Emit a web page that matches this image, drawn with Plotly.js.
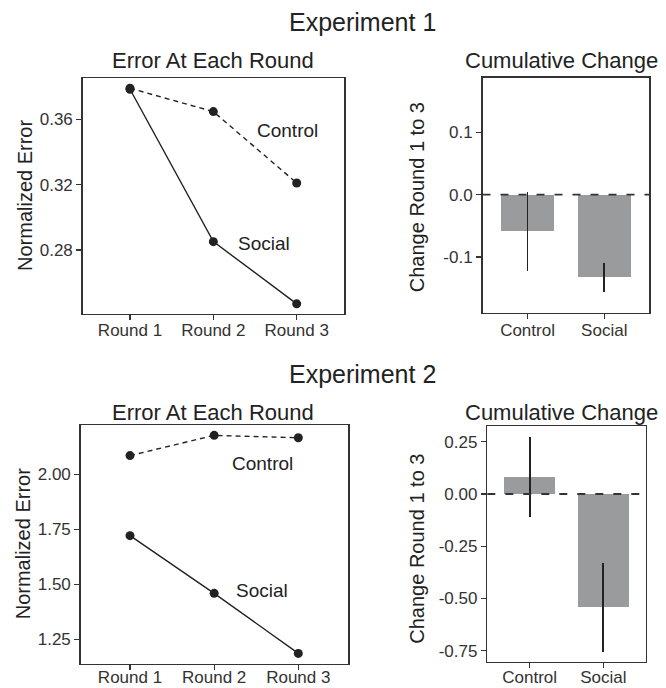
<!DOCTYPE html>
<html>
<head>
<meta charset="utf-8">
<script src="https://cdn.plot.ly/plotly-3.0.1.min.js"></script>
<style>html,body{margin:0;padding:0;background:#fff;}#chart{width:666px;height:688px;}</style>
</head>
<body>
<div id="chart"></div>
<script>
// ---- data ----
const rounds = ['Round 1', 'Round 2', 'Round 3'];
const groups = ['Control', 'Social'];

const exp1Control = [0.379, 0.3647, 0.321];
const exp1Social = [0.3784, 0.2851, 0.247];
const exp1Change = [-0.058, -0.1317];
const exp1CiHigh = [0.0048, -0.1088];
const exp1CiLow = [-0.1216, -0.1552];

const exp2Control = [2.085, 2.177, 2.166];
const exp2Social = [1.721, 1.459, 1.186];
const exp2Change = [0.0829, -0.5407];
const exp2CiHigh = [0.274, -0.3285];
const exp2CiLow = [-0.1116, -0.7544];

const exp1LineTicks = [0.28, 0.32, 0.36];
const exp1LineTickText = ['0.28', '0.32', '0.36'];
const exp1BarTicks = [-0.1, 0.0, 0.1];
const exp1BarTickText = ['-0.1', '0.0', '0.1'];
const exp2LineTicks = [1.25, 1.5, 1.75, 2.0];
const exp2LineTickText = ['1.25', '1.50', '1.75', '2.00'];
const exp2BarTicks = [-0.75, -0.5, -0.25, 0, 0.25];
const exp2BarTickText = ['-0.75', '-0.50', '-0.25', '0.00', '0.25'];

// ---- layout helpers ----
const W = 666, H = 688;
const px = v => v / W;
const py = v => 1 - v / H;
const FONT = 'Liberation Sans, Arial, Helvetica, sans-serif';
const INK = '#222';
const TXT = '#333';
const BAR = '#9a9b9d';

function errUp(v, hi) { return v.map((d, i) => hi[i] - d); }
function errDown(v, lo) { return v.map((d, i) => d - lo[i]); }

const lineCommon = {type: 'scatter', mode: 'lines+markers', showlegend: false, hoverinfo: 'skip',
  marker: {size: 9, color: INK}};

const traces = [
  Object.assign({}, lineCommon, {x: rounds, y: exp1Control, xaxis: 'x', yaxis: 'y',
    line: {color: INK, width: 1.4, dash: '5px,4px'}}),
  Object.assign({}, lineCommon, {x: rounds, y: exp1Social, xaxis: 'x', yaxis: 'y',
    line: {color: INK, width: 1.4}}),
  {type: 'bar', x: groups, y: exp1Change, xaxis: 'x2', yaxis: 'y2', width: 0.69,
    marker: {color: BAR, line: {width: 0}}, showlegend: false, hoverinfo: 'skip',
    error_y: {type: 'data', symmetric: false, array: errUp(exp1Change, exp1CiHigh),
      arrayminus: errDown(exp1Change, exp1CiLow), width: 0, thickness: 1.7, color: INK}},
  Object.assign({}, lineCommon, {x: rounds, y: exp2Control, xaxis: 'x3', yaxis: 'y3',
    line: {color: INK, width: 1.4, dash: '5px,4px'}}),
  Object.assign({}, lineCommon, {x: rounds, y: exp2Social, xaxis: 'x3', yaxis: 'y3',
    line: {color: INK, width: 1.4}}),
  {type: 'bar', x: groups, y: exp2Change, xaxis: 'x4', yaxis: 'y4', width: 0.69,
    marker: {color: BAR, line: {width: 0}}, showlegend: false, hoverinfo: 'skip',
    error_y: {type: 'data', symmetric: false, array: errUp(exp2Change, exp2CiHigh),
      arrayminus: errDown(exp2Change, exp2CiLow), width: 0, thickness: 1.7, color: INK}}
];

function axis(extra) {
  return Object.assign({
    showline: true, mirror: true, linecolor: '#333', linewidth: 1.5,
    ticks: 'outside', ticklen: 5, tickwidth: 1.2, tickcolor: '#333',
    showgrid: false, zeroline: false, fixedrange: true,
    tickfont: {family: FONT, size: 17, color: TXT}
  }, extra);
}
function xaxisOpt(extra) {
  return axis(Object.assign({type: 'category', ticklabelstandoff: -4}, extra));
}

function ann(text, x, y, size, extra) {
  return Object.assign({text: text, xref: 'paper', yref: 'paper', x: px(x), y: py(y),
    xanchor: 'center', yanchor: 'middle', showarrow: false,
    font: {family: FONT, size: size, color: INK}}, extra || {});
}

const layout = {
  width: W, height: H,
  margin: {l: 0, r: 0, t: 0, b: 0},
  paper_bgcolor: '#fff', plot_bgcolor: '#fff',
  showlegend: false,
  bargap: 0,
  xaxis: xaxisOpt({domain: [px(82.7), px(344)], range: [-0.5675, 2.5675]}),
  yaxis: axis({domain: [py(313.5), py(78.3)], range: [0.2411, 0.3851],
    tickvals: exp1LineTicks, ticktext: exp1LineTickText}),
  xaxis2: xaxisOpt({domain: [px(482.5), px(649.3)], range: [-0.587, 1.587], anchor: 'y2'}),
  yaxis2: axis({domain: [py(312.7), py(77.7)], range: [-0.1891, 0.1872], anchor: 'x2',
    tickvals: exp1BarTicks, ticktext: exp1BarTickText}),
  xaxis3: xaxisOpt({domain: [px(80.7), px(348.3)], range: [-0.586, 2.594], anchor: 'y3',
    ticklabelstandoff: -7}),
  yaxis3: axis({domain: [py(663.5), py(425)], range: [1.140, 2.224], anchor: 'x3',
    tickvals: exp2LineTicks, ticktext: exp2LineTickText}),
  xaxis4: xaxisOpt({domain: [px(487.3), px(645.7)], range: [-0.576, 1.576], anchor: 'y4',
    ticklabelstandoff: -6}),
  yaxis4: axis({domain: [py(661.7), py(426)], range: [-0.8024, 0.3254], anchor: 'x4',
    tickvals: exp2BarTicks, ticktext: exp2BarTickText}),
  shapes: [
    {type: 'line', layer: 'above', xref: 'x2 domain', yref: 'y2', x0: 0, x1: 1, y0: 0, y1: 0,
      line: {color: '#333', width: 1.8, dash: '8px,10px'}},
    {type: 'line', layer: 'above', xref: 'x4 domain', yref: 'y4', x0: 0, x1: 1, y0: 0, y1: 0,
      line: {color: '#333', width: 1.8, dash: '8px,10px'}}
  ],
  annotations: [
    ann('Experiment 1', 362, 22, 25),
    ann('Experiment 2', 362, 374, 25),
    ann('Error At Each Round', 212.5, 60.5, 22),
    ann('Cumulative Change', 561.3, 60.8, 22),
    ann('Error At Each Round', 212.5, 412.7, 22),
    ann('Cumulative Change', 561.3, 412.7, 22),
    ann('Normalized Error', 25, 196, 20, {textangle: -90}),
    ann('Change Round 1 to 3', 416.7, 197.5, 20, {textangle: -90}),
    ann('Normalized Error', 23.3, 544, 20, {textangle: -90}),
    ann('Change Round 1 to 3', 416.7, 549, 20, {textangle: -90}),
    {text: 'Control', xref: 'x', yref: 'y', x: 1.884, y: 0.353, showarrow: false,
      xanchor: 'center', yanchor: 'middle', font: {family: FONT, size: 19, color: INK}},
    {text: 'Social', xref: 'x', yref: 'y', x: 1.608, y: 0.2837, showarrow: false,
      xanchor: 'center', yanchor: 'middle', font: {family: FONT, size: 19, color: INK}},
    {text: 'Control', xref: 'x3', yref: 'y3', x: 1.58, y: 2.051, showarrow: false,
      xanchor: 'center', yanchor: 'middle', font: {family: FONT, size: 19, color: INK}},
    {text: 'Social', xref: 'x3', yref: 'y3', x: 1.57, y: 1.474, showarrow: false,
      xanchor: 'center', yanchor: 'middle', font: {family: FONT, size: 19, color: INK}}
  ]
};

Plotly.newPlot('chart', traces, layout, {displayModeBar: false, staticPlot: true});
</script>
</body>
</html>
